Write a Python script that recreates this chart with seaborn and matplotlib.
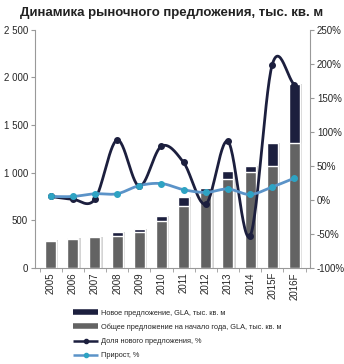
import numpy as np
import pandas as pd
import matplotlib
matplotlib.use("Agg")
import matplotlib.pyplot as plt
import matplotlib.ticker as mticker
from matplotlib.lines import Line2D
import seaborn as sns

years = ["2005", "2006", "2007", "2008", "2009", "2010", "2011", "2012", "2013", "2014", "2015F", "2016F"]
base_supply = [285, 300, 322, 340, 378, 490, 645, 800, 935, 1005, 1075, 1315]
new_supply = [10, 12, 6, 35, 35, 60, 95, 40, 80, 70, 235, 615]
share_new = [5, 1, 1, 88, 20, 79, 55, -6, 86, -53, 199, 169]
growth = [5, 5, 9, 9, 21, 24, 15, 11, 16, 8, 19, 32]

NAVY = "#1c1f3e"
GRAY = "#636363"
LBLUE = "#5b93c8"
TEAL = "#2ea3c3"

sns.set_style("white")
plt.rcParams['font.family'] = ['Liberation Sans', 'DejaVu Sans']

df = pd.DataFrame({"year": years, "base": base_supply, "new": new_supply})
df["total"] = df["base"] + df["new"]

fig = plt.figure(figsize=(3.44, 3.64), dpi=100)
ax = fig.add_axes([0.102, 0.264, 0.799, 0.654])

xpos = np.arange(len(years))
# soft shadow behind bars
ax.bar(xpos + 0.1, df["total"], width=0.5, color="#d4d4d4", zorder=1, linewidth=0)
sns.barplot(data=df, x="year", y="total", color=NAVY, saturation=1, width=0.5, ax=ax, zorder=2)
sns.barplot(data=df, x="year", y="base", color=GRAY, saturation=1, width=0.5, ax=ax, zorder=3)

ax.set_ylim(0, 2500)
ax.set_xlim(-0.7, 11.7)
ax.yaxis.set_major_locator(mticker.MultipleLocator(500))
ax.yaxis.set_major_formatter(mticker.FuncFormatter(lambda v, p: f"{int(v):,}".replace(",", " ")))
ax.set_xlabel("")
ax.set_ylabel("")
ax.tick_params(axis="x", rotation=90, labelsize=7, length=0, pad=3)
ax.tick_params(axis="y", labelsize=7, length=3, direction="out", left=True, pad=2, color="#999999")
ax.set_xticks(xpos)
ax.set_xticks(np.arange(len(years) + 1) - 0.5, minor=True)
ax.tick_params(axis="x", which="minor", length=3, bottom=True, color="#999999")
for s in ["top", "right"]:
    ax.spines[s].set_visible(False)
for s in ["left", "bottom"]:
    ax.spines[s].set_color("#999999")
    ax.spines[s].set_linewidth(0.8)

ax2 = ax.twinx()
ax2.set_ylim(-100, 250)
ax2.yaxis.set_major_locator(mticker.MultipleLocator(50))
ax2.yaxis.set_major_formatter(mticker.FuncFormatter(lambda v, p: f"{int(v)}%"))
ax2.tick_params(axis="y", labelsize=7, length=3, direction="out", pad=2, color="#999999")
for s in ["top", "left", "bottom"]:
    ax2.spines[s].set_visible(False)
ax2.spines["right"].set_color("#999999")
ax2.spines["right"].set_linewidth(0.8)


def smooth(xs, ys, n=30):
    xs = np.asarray(xs, float); ys = np.asarray(ys, float)
    px = np.concatenate([[2 * xs[0] - xs[1]], xs, [2 * xs[-1] - xs[-2]]])
    py = np.concatenate([[2 * ys[0] - ys[1]], ys, [2 * ys[-1] - ys[-2]]])
    outx, outy = [], []
    for i in range(1, len(px) - 2):
        p0, p1, p2, p3 = [np.array([px[j], py[j]]) for j in (i - 1, i, i + 1, i + 2)]
        t = np.linspace(0, 1, n)[:, None]
        c1 = p1 + (p2 - p0) / 6
        c2 = p2 - (p3 - p1) / 6
        pts = (1 - t) ** 3 * p1 + 3 * (1 - t) ** 2 * t * c1 + 3 * (1 - t) * t ** 2 * c2 + t ** 3 * p2
        outx.extend(pts[:, 0]); outy.extend(pts[:, 1])
    return outx, outy

sx, sy = smooth(xpos, share_new)
ax2.plot(sx, sy, color=NAVY, lw=2, zorder=4)
ax2.plot(xpos, share_new, "o", color=NAVY, ms=4, zorder=5)
gx, gy = smooth(xpos, growth)
ax2.plot(gx, gy, color=LBLUE, lw=2, zorder=4)
ax2.plot(xpos, growth, "o", color=TEAL, ms=4, zorder=5)

fig.text(0.5, 0.965, "Динамика рыночного предложения, тыс. кв. м", ha="center", va="center",
         fontsize=9.5, fontweight="bold", color="#222222")

handles = [
    Line2D([], [], color=NAVY, lw=4, solid_capstyle="butt"),
    Line2D([], [], color=GRAY, lw=4, solid_capstyle="butt"),
    Line2D([], [], color=NAVY, lw=1.8, marker="o", ms=3, solid_capstyle="butt"),
    Line2D([], [], color=LBLUE, lw=1.8, marker="o", ms=3, markerfacecolor=TEAL, markeredgecolor=TEAL,
           solid_capstyle="butt"),
]
labels = ["Новое предложение, GLA, тыс. кв. м",
          "Общее предложение на начало года, GLA, тыс. кв. м",
          "Доля нового предложения, %",
          "Прирост, %"]
fig.legend(handles, labels, loc="upper left", bbox_to_anchor=(0.205, 0.158), frameon=False,
           fontsize=5.3, handlelength=3.4, handletextpad=0.3, labelspacing=0.95, borderaxespad=0)

fig.savefig("out.png", dpi=100, facecolor="white")
